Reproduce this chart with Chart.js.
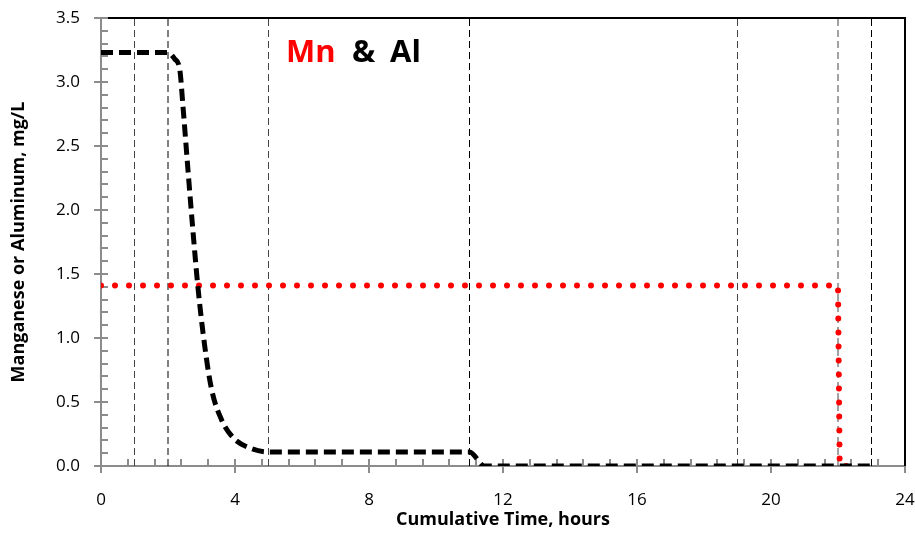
<!DOCTYPE html>
<html>
<head>
<meta charset="utf-8">
<script src="https://cdn.jsdelivr.net/npm/chart.js@4"></script>
<style>
  html, body { margin: 0; padding: 0; background: #fff; }
  #wrap { width: 915px; height: 533px; }
</style>
</head>
<body>
<div id="wrap"><canvas id="myChart" width="915" height="533"></canvas></div>
<script>
// aluminum (black dashed) and manganese (red dotted), mg/L vs hours
const alTime = [0, 2.0, 2.2, 2.35, 2.45, 2.6, 2.75, 2.9, 3.1, 3.3, 3.6, 3.95, 4.45, 5.0, 11.0, 11.45, 23.0];
const alConc = [3.23, 3.23, 3.18, 3.10, 2.80, 2.30, 1.82, 1.38, 0.93, 0.60, 0.36, 0.22, 0.14, 0.11, 0.11, 0.0, 0.0];
const mnTime = [0, 22.0, 22.05, 22.6];
const mnConc = [1.41, 1.41, 0.0, 0.0];
// event markers along the time axis
const eventTimes = [1, 2, 5, 11, 19, 22, 23];
const eventDark = [false, true, false, true, false, false, true];

const FONT = "'Open Sans', sans-serif";

const toPoints = (xs, ys) => xs.map((x, i) => ({ x: x, y: ys[i] }));

const datasets = [
  {
    label: "Al",
    data: toPoints(alTime, alConc),
    borderColor: "#000",
    borderWidth: 5,
    borderDash: [12, 6],
    cubicInterpolationMode: "monotone",
    pointRadius: 0,
    fill: false,
  },
  {
    label: "Mn",
    data: toPoints(mnTime, mnConc),
    borderColor: "#ff0000",
    borderWidth: 6,
    borderDash: [0, 14],
    borderCapStyle: "round",
    tension: 0,
    pointRadius: 0,
    fill: false,
  },
];

eventTimes.forEach((t, i) => {
  datasets.push({
    label: "event " + t,
    data: [{ x: t, y: 0 }, { x: t, y: 3.5 }],
    borderColor: eventDark[i] ? "#000" : "#444",
    borderWidth: 1,
    borderDash: [7, 4],
    pointRadius: 0,
    fill: false,
  });
});

// axis lines, frame and major/minor tick marks
const axesPlugin = {
  id: "axesPlugin",
  beforeDatasetsDraw(chart) {
    const { ctx, chartArea: a, scales } = chart;
    const xs = scales.x, ys = scales.y;
    ctx.save();
    ctx.strokeStyle = "#8c8c8c";
    ctx.lineWidth = 2;
    ctx.beginPath();
    ctx.moveTo(a.left, a.top);
    ctx.lineTo(a.left, a.bottom);
    ctx.lineTo(a.right, a.bottom);
    ctx.stroke();
    // minor x ticks every 0.8 h, major every 4 h
    for (let v = 0; v <= 24.001; v += 0.8) {
      const px = Math.round(xs.getPixelForValue(v));
      ctx.beginPath();
      ctx.moveTo(px, a.bottom);
      ctx.lineTo(px, a.bottom - 7);
      ctx.stroke();
    }
    for (let v = 0; v <= 24; v += 4) {
      const px = Math.round(xs.getPixelForValue(v));
      ctx.beginPath();
      ctx.moveTo(px, a.bottom - 7);
      ctx.lineTo(px, a.bottom + 7);
      ctx.stroke();
    }
    for (let v = 0; v <= 3.501; v += 0.1) {
      const py = Math.round(ys.getPixelForValue(v));
      ctx.beginPath();
      ctx.moveTo(a.left, py);
      ctx.lineTo(a.left + 7, py);
      ctx.stroke();
    }
    for (let v = 0; v <= 3.5; v += 0.5) {
      const py = Math.round(ys.getPixelForValue(v));
      ctx.beginPath();
      ctx.moveTo(a.left - 7, py);
      ctx.lineTo(a.left + 7, py);
      ctx.stroke();
    }
    ctx.strokeStyle = "#000";
    ctx.beginPath();
    ctx.moveTo(a.left + 7, a.top);
    ctx.lineTo(a.right, a.top);
    ctx.lineTo(a.right, a.bottom);
    ctx.stroke();
    ctx.restore();
  },
  afterDatasetsDraw(chart) {
    const { ctx, chartArea: a } = chart;
    ctx.save();
    ctx.font = "bold 31px " + FONT;
    ctx.textBaseline = "alphabetic";
    const y0 = a.top + 44;
    ctx.fillStyle = "#ff0000";
    ctx.fillText("Mn", a.left + 185, y0);
    ctx.fillStyle = "#000";
    ctx.fillText("&", a.left + 251, y0);
    ctx.fillText("Al", a.left + 289, y0);
    ctx.restore();
  },
};

new Chart(document.getElementById("myChart"), {
  type: "line",
  data: { datasets },
  options: {
    responsive: false,
    animation: false,
    layout: { padding: { top: 18, right: 10, left: 0, bottom: 0 } },
    plugins: {
      legend: { display: false },
      tooltip: { enabled: false },
    },
    scales: {
      x: {
        type: "linear",
        min: 0,
        max: 24,
        grid: { display: false, drawTicks: false },
        border: { display: false },
        ticks: {
          stepSize: 4,
          padding: 24,
          color: "#000",
          font: { family: FONT, size: 17 },
        },
        title: {
          display: true,
          text: "Cumulative Time, hours",
          color: "#000",
          font: { family: FONT, size: 18, weight: "bold" },
          padding: { top: 0, bottom: 2 },
        },
        afterFit(scale) {
          scale.height = 67;
          scale.paddingLeft = 0;
          scale.paddingRight = 0;
        },
      },
      y: {
        min: 0,
        max: 3.5,
        grid: { display: false, drawTicks: false },
        border: { display: false },
        ticks: {
          stepSize: 0.5,
          padding: 21,
          color: "#000",
          font: { family: FONT, size: 17 },
          callback: (v) => v.toFixed(1),
        },
        title: {
          display: true,
          text: "Manganese or Aluminum, mg/L",
          color: "#000",
          font: { family: FONT, size: 18, weight: "bold" },
          padding: { top: 8, bottom: 0 },
        },
        afterFit(scale) {
          scale.width = 101;
          scale.paddingTop = 0;
          scale.paddingBottom = 0;
        },
      },
    },
  },
  plugins: [axesPlugin],
});
</script>
</body>
</html>
